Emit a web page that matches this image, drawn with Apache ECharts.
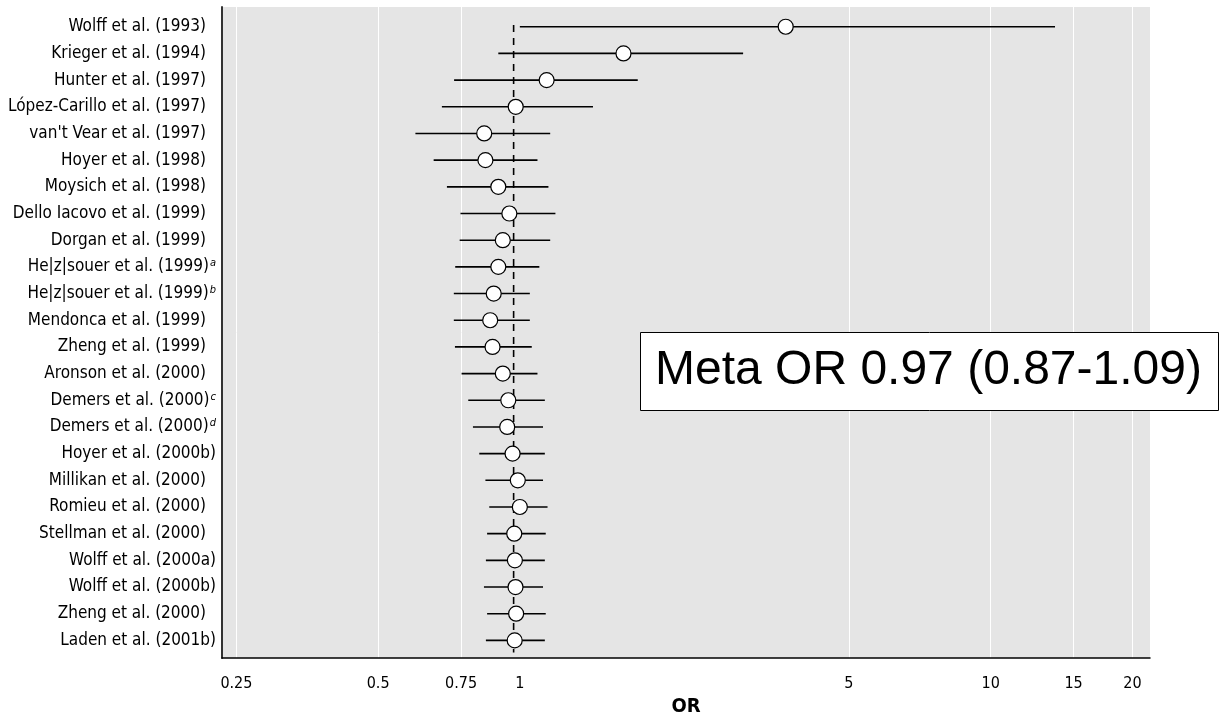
<!DOCTYPE html>
<html>
<head>
<meta charset="utf-8">
<title>Meta OR forest plot</title>
<script src="https://cdn.jsdelivr.net/npm/echarts@6/dist/echarts.min.js"></script>
<style>
    html, body { margin: 0; padding: 0; background: #fff; }
    #chart { width: 1230px; height: 719px; }
</style>
</head>
<body>
<div id="chart"></div>
<script>
// studies, top to bottom
const studies = [
    'Wolff et al. (1993)', 'Krieger et al. (1994)', 'Hunter et al. (1997)',
    'López-Carillo et al. (1997)', "van't Vear et al. (1997)", 'Hoyer et al. (1998)',
    'Moysich et al. (1998)', 'Dello Iacovo et al. (1999)', 'Dorgan et al. (1999)',
    'He|z|souer et al. (1999)', 'He|z|souer et al. (1999)', 'Mendonca et al. (1999)',
    'Zheng et al. (1999)', 'Aronson et al. (2000)', 'Demers et al. (2000)',
    'Demers et al. (2000)', 'Hoyer et al. (2000b)', 'Millikan et al. (2000)',
    'Romieu et al. (2000)', 'Stellman et al. (2000)', 'Wolff et al. (2000a)',
    'Wolff et al. (2000b)', 'Zheng et al. (2000)', 'Laden et al. (2001b)'
];
const notes = ['', '', '', '', '', '', '', '', '', 'a', 'b', '', '', '', 'c', 'd', '', '', '', '', '', '', '', ''];

const orValues = [3.67, 1.66, 1.14, 0.98, 0.84, 0.845, 0.90, 0.95, 0.92, 0.90, 0.88, 0.865,
    0.875, 0.92, 0.945, 0.94, 0.965, 0.99, 1.0, 0.973, 0.976, 0.979, 0.982, 0.975];
const lowerCI = [1.0, 0.90, 0.725, 0.683, 0.60, 0.656, 0.70, 0.748, 0.745, 0.729, 0.724, 0.724,
    0.728, 0.752, 0.777, 0.795, 0.82, 0.845, 0.861, 0.852, 0.847, 0.839, 0.852, 0.847];
const upperCI = [13.7, 2.98, 1.78, 1.43, 1.16, 1.09, 1.15, 1.19, 1.16, 1.10, 1.05, 1.05,
    1.06, 1.09, 1.13, 1.12, 1.13, 1.12, 1.145, 1.135, 1.13, 1.12, 1.135, 1.13];

const metaOR = 0.97;
const metaLow = 0.87;
const metaHigh = 1.09;

const xTickLabels = [0.25, 0.5, 0.75, 1, 5, 10, 15, 20];
const xGridValues = [0.25, 0.5, 0.75, 5, 10, 15, 20];

const narrowFont = "'Liberation Sans Narrow', 'DejaVu Sans Condensed', sans-serif";

const rows = studies.map((_, i) => i + 1);

const chart = echarts.init(document.getElementById('chart'));

const option = {
    animation: false,
    backgroundColor: '#fff',
    title: {
        text: 'Meta OR ' + metaOR.toFixed(2) + ' (' + metaLow.toFixed(2) + '-' + metaHigh.toFixed(2) + ')',
        left: 640,
        top: 332,
        padding: [15, 17, 16, 15],
        backgroundColor: '#fff',
        borderColor: '#000',
        borderWidth: 1,
        textStyle: {
            fontFamily: "'Liberation Sans', Arial, sans-serif",
            fontSize: 48,
            fontWeight: 'normal',
            color: '#000'
        }
    },
    grid: {
        left: 222,
        right: 80,
        top: 7,
        bottom: 61,
        outerBoundsMode: 'none',
        containLabel: false,
        show: true,
        backgroundColor: '#e5e5e5',
        borderWidth: 0
    },
    xAxis: {
        type: 'log',
        logBase: 10,
        min: 0.233,
        max: 21.8,
        name: 'OR',
        nameLocation: 'middle',
        nameGap: 38,
        nameTextStyle: {
            fontFamily: narrowFont,
            fontSize: 20,
            fontWeight: 'bold',
            color: '#000'
        },
        axisLine: { show: true, onZero: false, lineStyle: { color: '#000', width: 1.5 } },
        axisTick: { show: false, customValues: xGridValues },
        axisLabel: {
            customValues: xTickLabels,
            margin: 18,
            fontFamily: narrowFont,
            fontSize: 16,
            color: '#000',
            formatter: v => String(+(+v).toPrecision(6))
        },
        splitLine: { show: true, lineStyle: { color: '#fff', width: 1 } },
        minorSplitLine: { show: false }
    },
    yAxis: {
        type: 'value',
        inverse: true,
        min: 0.26,
        max: 24.66,
        axisLine: { show: true, onZero: false, lineStyle: { color: '#333', width: 2 } },
        axisTick: { show: false },
        splitLine: { show: false },
        axisLabel: {
            customValues: rows,
            margin: 6,
            fontFamily: narrowFont,
            fontSize: 17,
            color: '#000',
            formatter: function (v) {
                const i = Math.round(v) - 1;
                const name = studies[i];
                if (!name) return '';
                if (notes[i]) return name + '{sup|' + notes[i] + '}';
                if (/\d\)$/.test(name)) return name + '{pad|}';
                return name;
            },
            rich: {
                sup: {
                    fontFamily: narrowFont,
                    fontSize: 11,
                    fontStyle: 'italic',
                    color: '#000',
                    verticalAlign: 'bottom',
                    padding: [0, 0, 7, 1]
                },
                pad: { width: 10 }
            }
        }
    },
    series: [
        {
            name: 'CI',
            type: 'custom',
            silent: true,
            data: rows.map((r, i) => [r, lowerCI[i], upperCI[i]]),
            encode: { x: [1, 2], y: 0 },
            renderItem: function (params, api) {
                const a = api.coord([api.value(1), api.value(0)]);
                const b = api.coord([api.value(2), api.value(0)]);
                return {
                    type: 'line',
                    shape: { x1: a[0], y1: a[1], x2: b[0], y2: b[1] },
                    style: { stroke: '#000', lineWidth: 1.6 }
                };
            },
            z: 2
        },
        {
            name: 'Meta OR',
            type: 'line',
            silent: true,
            symbol: 'none',
            data: [[metaOR, 0.93], [metaOR, 24.45]],
            lineStyle: { color: '#000', width: 1.6, type: [7, 6] },
            z: 3
        },
        {
            name: 'OR',
            type: 'scatter',
            silent: true,
            data: rows.map((r, i) => [orValues[i], r]),
            symbol: 'circle',
            symbolSize: 15,
            itemStyle: { color: '#fff', borderColor: '#000', borderWidth: 1.2, opacity: 1 },
            z: 4
        }
    ]
};

chart.setOption(option);

window.onresize = function () {
    chart.resize();
};
</script>
</body>
</html>
